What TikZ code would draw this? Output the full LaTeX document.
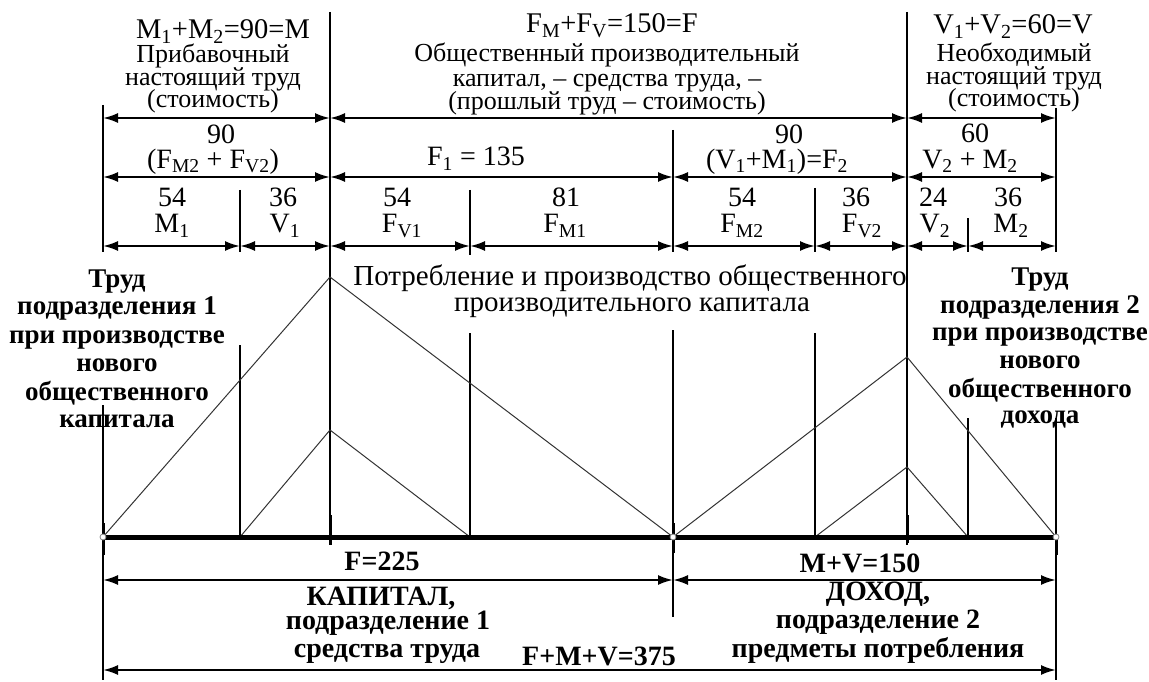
\documentclass[tikz,border=0pt]{standalone}
\usepackage{fontspec}
\setmainfont{Liberation Serif}
\usetikzlibrary{arrows.meta}
\begin{document}
\begin{tikzpicture}[x=1pt,y=-1pt,
  dimarrow/.style={{Latex[length=15pt,width=10pt]}-{Latex[length=15pt,width=10pt]}, line width=2.2pt},
  vline/.style={line width=1.4pt},
  tri/.style={line width=1pt, draw=black!80},
  baseln/.style={line width=5pt},
  thicktick/.style={line width=3pt},
  frm/.style={anchor=base, inner sep=0pt, font=\fontsize{28.5}{28.5}\selectfont},
  dsc/.style={anchor=base, inner sep=0pt, font=\fontsize{26}{26}\selectfont},
  lbl/.style={anchor=base, inner sep=0pt, font=\fontsize{28}{28}\selectfont},
  mid/.style={anchor=base, inner sep=0pt, font=\fontsize{29}{29}\selectfont},
  side/.style={anchor=base, inner sep=0pt, font=\fontsize{27}{27}\selectfont\bfseries},
  bot/.style={anchor=base, inner sep=0pt, font=\fontsize{28}{28}\selectfont\bfseries}
]
\useasboundingbox (0,0) rectangle (1149,682);

% named coordinates
\foreach \n/\x in {0/103,1/240,2/330,3/470,4/673,5/815,6/907,7/968,8/1056}{
  \coordinate (A\n) at (\x,118);
  \coordinate (B\n) at (\x,177);
  \coordinate (C\n) at (\x,246);
  \coordinate (P\n) at (\x,537);
  \coordinate (D\n) at (\x,580);
  \coordinate (E\n) at (\x,670);
}
\coordinate (pk1) at (330,277);
\coordinate (pk2) at (330,430);
\coordinate (pk3) at (907,357);
\coordinate (pk4) at (907,467);

% vertical lines
\draw[vline] (103,105) -- (103,252);
\draw[vline] (103,405) -- (103,680);
\draw[vline] (240,190) -- (240,252);
\draw[vline] (240,345) -- (P1);
\draw[vline] (330,12) -- (330,545);
\draw[vline] (470,190) -- (470,255);
\draw[vline] (470,333) -- (P3);
\draw[vline] (673,130) -- (673,252);
\draw[vline] (673,330) -- (673,617);
\draw[vline] (815,188) -- (815,252);
\draw[vline] (815,333) -- (P5);
\draw[vline] (907,12) -- (907,545);
\draw[vline] (968,218) -- (968,252);
\draw[vline] (968,418) -- (P7);
\draw[vline] (1056,108) -- (1056,252);
\draw[vline] (1056,418) -- (1056,680);

% triangles
\draw[tri] (P0) -- (pk1) -- (P4);
\draw[tri] (P1) -- (pk2) -- (P3);
\draw[tri] (P4) -- (pk3) -- (P8);
\draw[tri] (P5) -- (pk4) -- (P7);

% baseline
\draw[baseln] (P0) -- (P8);
\draw[thicktick] (103,523) -- (103,555);
\draw[thicktick] (330,515) -- (330,545);
\draw[thicktick] (673,523) -- (673,553);
\draw[thicktick] (907,515) -- (907,543);
\draw[thicktick] (1056,538) -- (1056,555);
\foreach \n in {0,4,8}{ \draw[gray, line width=0.8pt, fill=white] (P\n) circle (3); }

% dimension arrows
\draw[dimarrow] (A0) -- (A2);
\draw[dimarrow] (A2) -- (A6);
\draw[dimarrow] (A6) -- (A8);
\draw[dimarrow] (B0) -- (B2);
\draw[dimarrow] (B2) -- (B4);
\draw[dimarrow] (B4) -- (B6);
\draw[dimarrow] (B6) -- (B8);
\draw[dimarrow] (C0) -- (C1);
\draw[dimarrow] (C1) -- (C2);
\draw[dimarrow] (C2) -- (C3);
\draw[dimarrow] (C3) -- (C4);
\draw[dimarrow] (C4) -- (C5);
\draw[dimarrow] (C5) -- (C6);
\draw[dimarrow] (C6) -- (C7);
\draw[dimarrow] (C7) -- (C8);
\draw[dimarrow] (D0) -- (D4);
\draw[dimarrow] (D4) -- (D8);
\draw[dimarrow] (E0) -- (E8);

% top texts
\node[frm] (tlf) at (223,39) {M\textsubscript{1}+M\textsubscript{2}=90=M};
\node[dsc] (tl1) at (213,63) {Прибавочный};
\node[dsc] (tl2) at (213,86) {настоящий труд};
\node[dsc] (tl3) at (213,108) {(стоимость)};

\node[frm] (tmf) at (612,33) {F\textsubscript{M}+F\textsubscript{V}=150=F};
\node[dsc] (tm1) at (607,62) {Общественный производительный};
\node[dsc] (tm2) at (607,87) {капитал, – средства труда, –};
\node[dsc] (tm3) at (607,110) {(прошлый труд – стоимость)};

\node[frm] (trf) at (1013,34) {V\textsubscript{1}+V\textsubscript{2}=60=V};
\node[dsc] (tr1) at (1014,62) {Необходимый};
\node[dsc] (tr2) at (1014,85) {настоящий труд};
\node[dsc] (tr3) at (1014,107) {(стоимость)};

% row 2
\node[lbl] (n90a) at (221,144) {90};
\node[lbl] (fsum) at (213,168) {(F\textsubscript{M2} + F\textsubscript{V2})};
\node[lbl] (f1) at (476,166) {F\textsubscript{1} = 135};
\node[lbl] (n90b) at (789,144) {90};
\node[lbl] (vm) at (777,168) {(V\textsubscript{1}+M\textsubscript{1})=F\textsubscript{2}};
\node[lbl] (n60) at (975,143) {60};
\node[lbl] (v2m2) at (970,168) {V\textsubscript{2} + M\textsubscript{2}};

% row 3
\node[lbl] (a54) at (172,206) {54};
\node[lbl] (aM1) at (172,233) {M\textsubscript{1}};
\node[lbl] (a36) at (283,206) {36};
\node[lbl] (aV1) at (285,233) {V\textsubscript{1}};
\node[lbl] (b54) at (397,206) {54};
\node[lbl] (bFV1) at (402,233) {F\textsubscript{V1}};
\node[lbl] (b81) at (566,206) {81};
\node[lbl] (bFM1) at (565,233) {F\textsubscript{M1}};
\node[lbl] (c54) at (742,206) {54};
\node[lbl] (cFM2) at (742,233) {F\textsubscript{M2}};
\node[lbl] (c36) at (856,206) {36};
\node[lbl] (cFV2) at (862,233) {F\textsubscript{V2}};
\node[lbl] (d24) at (933,206) {24};
\node[lbl] (dV2) at (935,233) {V\textsubscript{2}};
\node[lbl] (d36) at (1008,206) {36};
\node[lbl] (dM2) at (1011,233) {M\textsubscript{2}};

% side blocks
\node[side] (l1) at (117,287) {Труд};
\node[side] (l2) at (117,314) {подразделения 1};
\node[side] (l3) at (117,343) {при производстве};
\node[side] (l4) at (117,371) {нового};
\node[side] (l5) at (117,400) {общественного};
\node[side] (l6) at (117,427) {капитала};

\node[side] (r1) at (1040,285) {Труд};
\node[side] (r2) at (1040,313) {подразделения 2};
\node[side] (r3) at (1040,340) {при производстве};
\node[side] (r4) at (1040,368) {нового};
\node[side] (r5) at (1040,397) {общественного};
\node[side] (r6) at (1040,423) {дохода};

% middle
\node[mid] (m1) at (630,285) {Потребление и производство общественного};
\node[mid] (m2) at (632,311) {производительного капитала};

% bottom
\node[bot] (F225) at (382,570) {F=225};
\node[bot] (MV150) at (860,572) {M+V=150};
\node[bot] (kap) at (381,605) {КАПИТАЛ,};
\node[bot] (pod1) at (388,629) {подразделение 1};
\node[bot] (sred) at (387,657) {средства труда};
\node[bot] (FMV) at (599,665) {F+M+V=375};
\node[bot] (doh) at (878,600) {ДОХОД,};
\node[bot] (pod2) at (878,628) {подразделение 2};
\node[bot] (pred) at (878,657) {предметы потребления};
\end{tikzpicture}
\end{document}
